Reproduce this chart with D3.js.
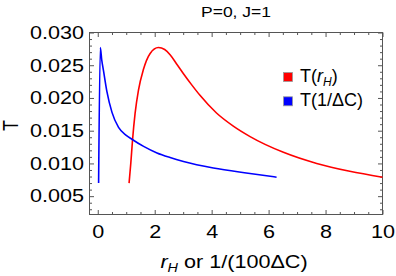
<!DOCTYPE html>
<html>
<head>
<meta charset="utf-8">
<script src="https://cdn.jsdelivr.net/npm/d3@7"></script>
<style>
body { margin: 0; background: #fff; }
text { font-family: "Liberation Sans", Arial, sans-serif; fill: #000; }
</style>
</head>
<body>
<svg id="chart" width="396" height="276"></svg>
<script>
// values
var redX = [1.10, 1.16, 1.22, 1.31, 1.43, 1.60, 1.84, 2.13, 2.35, 2.54, 2.77, 3.01, 3.30, 3.59, 4.17, 4.76, 5.35, 6.52, 7.69, 8.85, 10.0];
var redT = [0.0070, 0.0100, 0.0135, 0.0176, 0.0212, 0.0243, 0.0268, 0.0277, 0.0274, 0.0266, 0.0252, 0.0237, 0.0220, 0.0204, 0.0177, 0.0157, 0.0141, 0.0117, 0.0100, 0.0088, 0.0079];

var blueX = [0.03, 0.09, 0.14, 0.20, 0.32, 0.50, 0.73, 1.00, 1.20, 1.61, 2.08, 2.54, 3.01, 4.06, 5.28, 6.28];
var blueT = [0.0070, 0.0277, 0.0258, 0.0242, 0.0210, 0.0178, 0.0155, 0.0143, 0.0137, 0.0126, 0.0116, 0.0109, 0.0103, 0.0093, 0.0085, 0.0079];

var xTicks = [0, 2, 4, 6, 8, 10];
var yTicks = [0.005, 0.010, 0.015, 0.020, 0.025, 0.030];
var legendNames = ["T(r_H)", "T(1/ΔC)"];
var colors = ["#ff0000", "#0000ff"];

var margin = {left: 89.5, top: 32.5};
var width = 293;
var height = 182;

var svg = d3.select("#chart");
var g = svg.append("g")
  .attr("transform", "translate(" + margin.left + "," + margin.top + ")");

var x = d3.scaleLinear().domain([-0.29, 10]).range([0, width]);
var y = d3.scaleLinear().domain([0.0022, 0.030]).range([height, 0]);

var xMinor = d3.range(0, 10.01, 0.5).filter(function (d) { return d % 2 !== 0; });
var yMinor = d3.range(3, 30, 1).map(function (d) { return d / 1000; })
  .filter(function (d) { return Math.round(d * 1000) % 5 !== 0; });

function addAxis(axis, tx, ty) {
  var a = g.append("g")
    .attr("transform", "translate(" + tx + "," + ty + ")")
    .call(axis);
  a.select(".domain").remove();
  a.selectAll("line").attr("stroke", "#555");
  return a;
}

// bottom
var xb = addAxis(d3.axisBottom(x).tickValues(xTicks).tickSize(-4.5).tickPadding(11), 0, height);
xb.selectAll("text").attr("font-size", 18).attr("transform", "scale(1.2,1)");
addAxis(d3.axisBottom(x).tickValues(xMinor).tickSize(-2.5).tickFormat(""), 0, height);
// top
addAxis(d3.axisTop(x).tickValues(xTicks).tickSize(-4.5).tickFormat(""), 0, 0);
addAxis(d3.axisTop(x).tickValues(xMinor).tickSize(-2.5).tickFormat(""), 0, 0);

// left
var yl = addAxis(d3.axisLeft(y).tickValues(yTicks).tickSize(-4.5).tickPadding(4.6)
  .tickFormat(d3.format(".3f")), 0, 0);
yl.selectAll("text").attr("font-size", 18).attr("transform", "scale(1.2,1)");
addAxis(d3.axisLeft(y).tickValues(yMinor).tickSize(-2.5).tickFormat(""), 0, 0);
// right
addAxis(d3.axisRight(y).tickValues(yTicks).tickSize(-4.5).tickFormat(""), width, 0);
addAxis(d3.axisRight(y).tickValues(yMinor).tickSize(-2.5).tickFormat(""), width, 0);

g.append("rect")
  .attr("width", width)
  .attr("height", height)
  .attr("fill", "none")
  .attr("stroke", "#555");

var line = d3.line()
  .x(function (d) { return x(d[0]); })
  .y(function (d) { return y(d[1]); })
  .curve(d3.curveMonotoneX);

var plot = g.append("g");
plot.append("path")
  .datum(d3.zip(redX, redT))
  .attr("fill", "none")
  .attr("stroke", colors[0])
  .attr("stroke-width", 1.6)
  .attr("d", line);

plot.append("path")
  .datum(d3.zip(blueX, blueT))
  .attr("fill", "none")
  .attr("stroke", colors[1])
  .attr("stroke-width", 1.6)
  .attr("d", line);

// title
svg.append("text")
  .attr("transform", "translate(236,16.7) scale(1.25,1)")
  .attr("text-anchor", "middle")
  .attr("font-size", 14)
  .text("P=0, J=1");

// axis labels
var xl = svg.append("text")
  .attr("transform", "translate(234,268) scale(1.2,1)")
  .attr("text-anchor", "middle")
  .attr("font-size", 18);
xl.append("tspan").attr("font-style", "italic").text("r");
xl.append("tspan").attr("font-style", "italic").attr("font-size", 12).attr("dy", 4).text("H");
xl.append("tspan").attr("dy", -4).text(" or 1/(100ΔC)");

svg.append("text")
  .attr("transform", "translate(18.3,125.5) rotate(-90) scale(1,1.2)")
  .attr("text-anchor", "middle")
  .attr("font-size", 18)
  .text("T");

// legend
var legend = svg.append("g");
legendNames.forEach(function (name, i) {
  var ly = 72.5 + i * 24.3;
  legend.append("rect")
    .attr("x", 283.5).attr("y", ly)
    .attr("width", 9).attr("height", 9)
    .attr("fill", colors[i])
    .attr("stroke", "#999")
    .attr("stroke-width", 0.8);
  var t = legend.append("text")
    .attr("x", 300).attr("y", ly + 9.2)
    .attr("font-size", 18);
  if (name === "T(r_H)") {
    t.append("tspan").text("T(");
    t.append("tspan").attr("font-style", "italic").text("r");
    t.append("tspan").attr("font-style", "italic").attr("font-size", 12).attr("dy", 4).text("H");
    t.append("tspan").attr("dy", -4).text(")");
  } else {
    t.text(name);
  }
});
</script>
</body>
</html>
